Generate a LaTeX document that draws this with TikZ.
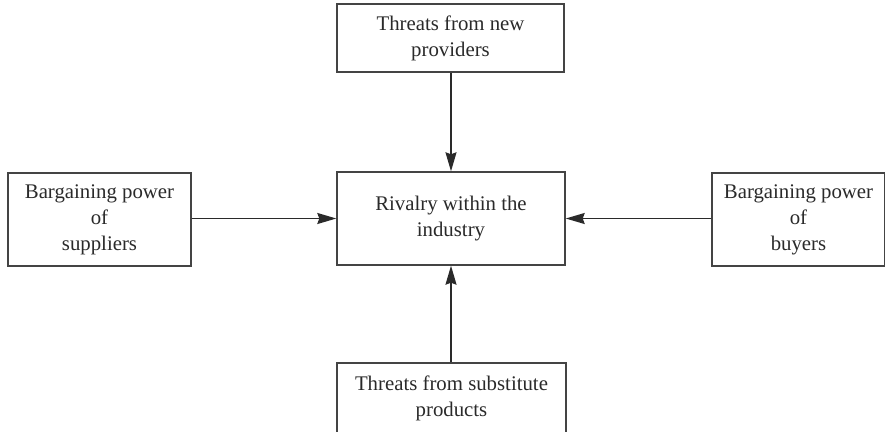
\documentclass[tikz,border=0pt]{standalone}
\usepackage{fontspec}
\setmainfont{Liberation Serif}
\usetikzlibrary{arrows.meta}
\definecolor{ink}{HTML}{2A2A2A}
\definecolor{frame}{HTML}{444444}
\begin{document}
\begin{tikzpicture}[x=1pt,y=-1pt,
  forcebox/.style={draw=frame,line width=1.4pt,fill=white,text=ink,align=center,
    inner sep=0pt,font=\fontsize{20.8}{26}\selectfont},
  force/.style={draw=ink,line width=1.5pt,
    -{Stealth[length=19pt,width=11pt,inset=2pt]}}]
  \useasboundingbox (0,0) rectangle (885,431);
  % central force and the four outer forces
  \node[forcebox,minimum width=228pt,minimum height=93pt] (rival) at (451,218.5)
    {Rivalry within the\\industry};
  \node[forcebox,minimum width=227pt,minimum height=68pt] (entrants) at (450.5,38)
    {Threats from new\\providers};
  \node[forcebox,minimum width=229pt,minimum height=70pt] (subst) at (451.5,398)
    {Threats from substitute\\products};
  \node[forcebox,minimum width=183pt,minimum height=93pt] (suppl) at (99.5,219.5)
    {Bargaining power\\of\\suppliers};
  \node[forcebox,minimum width=173pt,minimum height=93pt] (buyers) at (798.5,219.5)
    {Bargaining power\\of\\buyers};
  % arrows pointing into the rivalry box
  \draw[force] (entrants.south -| rival.north) -- (rival.north);
  \draw[force] (subst.north -| rival.south) -- (rival.south);
  \draw[force] (suppl.east |- rival.west) -- (rival.west);
  \draw[force] (buyers.west |- rival.east) -- (rival.east);
\end{tikzpicture}
\end{document}
